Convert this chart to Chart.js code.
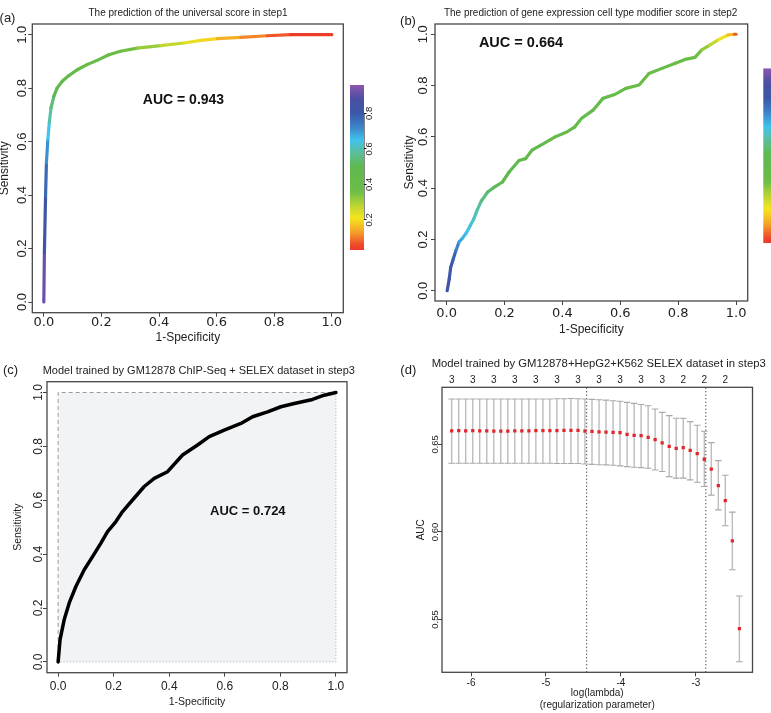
<!DOCTYPE html>
<html><head><meta charset="utf-8">
<script src="https://cdn.jsdelivr.net/npm/chart.js@4.4.1/dist/chart.umd.min.js"></script>
<style>
html,body{margin:0;padding:0;background:#fff;}
#wrap{position:relative;width:771px;height:713px;overflow:hidden;background:#fff;}
canvas{position:absolute;left:0;top:0;}
.t{position:absolute;transform:translate(-50%,-50%);white-space:nowrap;font-family:'Liberation Sans',Arial,Helvetica,sans-serif;color:#222;line-height:1;}
</style></head><body>
<div id="wrap">
<canvas id="cA" width="771" height="713"></canvas>
<canvas id="cAbar" width="771" height="713"></canvas>
<canvas id="cB" width="771" height="713"></canvas>
<canvas id="cBbar" width="771" height="713"></canvas>
<canvas id="cC" width="771" height="713"></canvas>
<canvas id="cD" width="771" height="713"></canvas>
<div class="t" style="left:7.5px;top:17px;font-size:13px">(a)</div>
<div class="t" style="left:188px;top:12.5px;font-size:10px">The prediction of the universal score in step1</div>
<div class="t" style="left:408px;top:20px;font-size:13px">(b)</div>
<div class="t" style="left:590.7px;top:13.3px;font-size:10px">The prediction of gene expression cell type modifier score in step2</div>
<div class="t" style="left:10.5px;top:369px;font-size:13px">(c)</div>
<div class="t" style="left:198.8px;top:370px;font-size:11px">Model trained by GM12878 ChIP-Seq + SELEX dataset in step3</div>
<div class="t" style="left:408.3px;top:369px;font-size:13px">(d)</div>
<div class="t" style="left:598.7px;top:364.3px;font-size:11.3px">Model trained by GM12878+HepG2+K562 SELEX dataset in step3</div>
</div>
<script>
// ---------------- DATA ----------------
// (a) universal score ROC
const rocA_fpr = [0, 0.002, 0.006, 0.009, 0.014, 0.019, 0.025, 0.035, 0.046, 0.064, 0.087, 0.116, 0.15, 0.185, 0.226, 0.266, 0.324, 0.406, 0.487, 0.545, 0.603, 0.684, 0.776, 0.857, 1.0];
const rocA_tpr = [0, 0.184, 0.396, 0.52, 0.608, 0.67, 0.726, 0.77, 0.80, 0.826, 0.847, 0.869, 0.888, 0.904, 0.925, 0.938, 0.95, 0.959, 0.969, 0.979, 0.985, 0.99, 0.996, 1.0, 1.0];
const rocA_cutoff = [0.97, 0.86, 0.80, 0.74, 0.68, 0.62, 0.56, 0.52, 0.48, 0.46, 0.445, 0.43, 0.42, 0.41, 0.39, 0.37, 0.34, 0.29, 0.25, 0.21, 0.17, 0.13, 0.09, 0.05, 0.02];
const aucA = 'AUC = 0.943';

// (b) cell type modifier score ROC
const rocB_fpr = [0.002, 0.009, 0.014, 0.022, 0.032, 0.043, 0.055, 0.068, 0.08, 0.094, 0.106, 0.12, 0.142, 0.165, 0.193, 0.216, 0.25, 0.273, 0.295, 0.335, 0.375, 0.415, 0.443, 0.466, 0.506, 0.54, 0.58, 0.619, 0.665, 0.699, 0.744, 0.79, 0.824, 0.858, 0.881, 0.909, 0.938, 0.972, 0.994, 1.0];
const rocB_tpr = [0, 0.045, 0.09, 0.12, 0.156, 0.19, 0.205, 0.225, 0.25, 0.28, 0.315, 0.35, 0.385, 0.404, 0.424, 0.463, 0.508, 0.515, 0.548, 0.574, 0.6, 0.619, 0.639, 0.672, 0.704, 0.75, 0.765, 0.789, 0.802, 0.847, 0.867, 0.887, 0.902, 0.91, 0.939, 0.958, 0.978, 0.997, 1.0, 1.0];
const rocB_cutoff = [0.86, 0.84, 0.82, 0.80, 0.76, 0.70, 0.67, 0.66, 0.64, 0.62, 0.60, 0.57, 0.54, 0.52, 0.50, 0.48, 0.47, 0.46, 0.46, 0.45, 0.45, 0.44, 0.44, 0.43, 0.43, 0.42, 0.42, 0.41, 0.41, 0.40, 0.40, 0.39, 0.38, 0.37, 0.34, 0.30, 0.25, 0.20, 0.12, 0.03];
const aucB = 'AUC = 0.664';

// colour bar range (cutoff values)
const cbMin = 0.03, cbMax = 0.96;
const cbTicks = [0.2, 0.4, 0.6, 0.8];

// (c) GM12878 ChIP-Seq + SELEX ROC
const rocC_fpr = [0, 0.007, 0.022, 0.04, 0.064, 0.094, 0.124, 0.154, 0.178, 0.208, 0.232, 0.268, 0.31, 0.346, 0.394, 0.448, 0.502, 0.544, 0.598, 0.658, 0.7, 0.754, 0.802, 0.85, 0.916, 0.958, 1.0];
const rocC_tpr = [0, 0.083, 0.157, 0.219, 0.28, 0.342, 0.391, 0.441, 0.484, 0.521, 0.558, 0.601, 0.651, 0.681, 0.706, 0.768, 0.805, 0.836, 0.86, 0.885, 0.91, 0.928, 0.947, 0.959, 0.974, 0.99, 1.0];
const aucC = 'AUC = 0.724';

// (d) cross-validated AUC vs log(lambda)
const logLambda = [-6.258,-6.164,-6.071,-5.977,-5.884,-5.790,-5.696,-5.603,-5.509,-5.416,-5.322,-5.228,-5.135,-5.041,-4.948,-4.854,-4.760,-4.667,-4.573,-4.480,-4.386,-4.292,-4.199,-4.105,-4.012,-3.918,-3.824,-3.731,-3.637,-3.544,-3.450,-3.356,-3.263,-3.169,-3.076,-2.982,-2.888,-2.795,-2.701,-2.608,-2.514,-2.420];
const cvMean = [0.6577,0.6578,0.6577,0.6578,0.6577,0.6577,0.6576,0.6576,0.6576,0.6577,0.6577,0.6577,0.6578,0.6578,0.6579,0.6579,0.6580,0.6580,0.6580,
  0.6576,0.6574,0.6572,0.6570,0.6568,0.6567,0.6557,0.6552,0.6550,0.6540,0.6527,0.6508,0.6489,0.6477,0.6481,0.6466,0.6447,0.6415,0.6359,0.6265,0.6179,0.5949,0.5448];
const cvUpper = [0.6759,0.6759,0.6759,0.6759,0.6759,0.6759,0.6759,0.6759,0.6759,0.6759,0.6759,0.6759,0.6759,0.6759,0.6759,0.6761,0.6761,0.6762,0.6761,
  0.6759,0.6757,0.6755,0.6753,0.6749,0.6746,0.6740,0.6734,0.6728,0.6721,0.6702,0.6683,0.6664,0.6649,0.6649,0.6630,0.6609,0.6575,0.6510,0.6407,0.6324,0.6113,0.5634];
const cvLower = [0.6392,0.6392,0.6392,0.6392,0.6392,0.6392,0.6392,0.6392,0.6392,0.6392,0.6392,0.6392,0.6392,0.6392,0.6392,0.6391,0.6391,0.6391,0.6391,
  0.6388,0.6386,0.6384,0.6383,0.6381,0.6377,0.6373,0.6369,0.6367,0.6364,0.6354,0.6345,0.6316,0.6307,0.6307,0.6297,0.6284,0.6259,0.6210,0.6126,0.6035,0.5784,0.5258];
const nonzeroAt = [-6.258,-5.977,-5.696,-5.416,-5.135,-4.854,-4.573,-4.292,-4.012,-3.731,-3.450,-3.169,-2.888,-2.608];
const nonzeroCount = [3,3,3,3,3,3,3,3,3,3,3,2,2,2];
const lambdaMinLog = -4.457, lambda1seLog = -2.868;

const rocTicks = [0, 0.2, 0.4, 0.6, 0.8, 1.0];
const dXTicks = [-6, -5, -4, -3];
const dYTicks = [0.55, 0.60, 0.65];

// ---------------- STYLE ----------------
const W = 771, H = 713;
const SANS = "'Liberation Sans', Arial, Helvetica, sans-serif";
Chart.defaults.font.family = SANS;
Chart.defaults.color = '#222';
Chart.defaults.animation = false;
Chart.defaults.responsive = false;
Chart.defaults.devicePixelRatio = 1;
Chart.defaults.plugins.legend.display = false;
Chart.defaults.plugins.tooltip.enabled = false;
Chart.defaults.events = [];

const rampStops = [0.00, 0.06, 0.13, 0.21, 0.28, 0.36, 0.50, 0.58, 0.65, 0.72, 0.80, 0.88, 0.96];
const rampColors = ['#ea2a2a','#ee4a2a','#f4a028','#f6e51e','#bcd533','#6bbd46','#5fb94f','#5bbf9c','#40c3ec','#3d86c9','#3b58a8','#4a4fa3','#8d55af'];
const rampRGB = rampColors.map(h => [1,3,5].map(i => parseInt(h.slice(i, i+2), 16)));
function rampColor(v) {
  if (v <= rampStops[0]) return rampColors[0];
  for (let k = 1; k < rampStops.length; k++) {
    if (v <= rampStops[k]) {
      const t = (v - rampStops[k-1]) / (rampStops[k] - rampStops[k-1]);
      const a = rampRGB[k-1], b = rampRGB[k];
      return 'rgb(' + a.map((c, j) => Math.round(c + (b[j] - c) * t)).join(',') + ')';
    }
  }
  return rampColors[rampColors.length - 1];
}
function barGradient(ctx) {
  const ch = ctx.chart, ys = ch.scales.y;
  if (!ys || !ch.chartArea) return '#888';
  const y0 = ys.getPixelForValue(cbMin), y1 = ys.getPixelForValue(cbMax);
  const g = ch.ctx.createLinearGradient(0, y0, 0, y1);
  for (let k = 0; k <= 60; k++) g.addColorStop(k / 60, rampColor(cbMin + (cbMax - cbMin) * k / 60));
  return g;
}

const FRAME = { id: 'frame', afterDraw(chart) {
  const a = chart.chartArea, c = chart.ctx;
  c.save(); c.strokeStyle = '#474747'; c.lineWidth = 1.3;
  c.strokeRect(a.left, a.top, a.right - a.left, a.bottom - a.top); c.restore();
}};
const NOTE = { id: 'note', afterDatasetsDraw(chart, args, opts) {
  if (!opts || !opts.text) return;
  const c = chart.ctx;
  const x = chart.scales.x.getPixelForValue(opts.x), y = chart.scales.y.getPixelForValue(opts.y);
  c.save(); c.font = opts.font; c.fillStyle = '#111'; c.textAlign = 'center'; c.textBaseline = 'middle';
  c.fillText(opts.text, x, y); c.restore();
}};

function pad(frame, ext) {
  return { left: frame.l - ext.left, top: frame.t - ext.top, right: W - frame.r - ext.right, bottom: H - frame.b - ext.bottom };
}
function xAxis(o) {
  const tl = o.tl || 0;
  return {
    type: 'linear', position: o.position || 'bottom', min: o.min, max: o.max, offset: false,
    afterFit: s => { s.height = o.h; },
    afterBuildTicks: s => { s.ticks = o.ticks.map(v => ({ value: v })); },
    grid: { display: tl > 0, offset: false, drawOnChartArea: false, drawTicks: tl > 0, tickLength: tl, color: '#444' },
    border: { display: false },
    ticks: { autoSkip: false, maxRotation: 0, minRotation: 0, padding: o.pad, font: o.font, color: '#222', callback: o.fmt },
    title: o.title ? { display: true, text: o.title, font: o.titleFont, color: '#222', padding: { top: 0, bottom: o.titlePad } } : { display: false }
  };
}
function yAxis(o) {
  return {
    type: 'linear', position: o.position || 'left', min: o.min, max: o.max, beginAtZero: false, offset: false,
    afterFit: s => { s.width = o.w; },
    afterBuildTicks: s => { s.ticks = o.ticks.map(v => ({ value: v })); },
    grid: { display: true, offset: false, drawOnChartArea: false, drawTicks: true, tickLength: o.tl, color: o.tickColor || '#444' },
    border: { display: false },
    ticks: { autoSkip: false, minRotation: 90, maxRotation: 90, crossAlign: 'center', padding: o.pad, font: o.font, color: '#222', callback: o.fmt },
    title: o.title ? { display: true, text: o.title, font: o.titleFont, color: '#222', padding: { top: o.titlePad, bottom: 0 } } : { display: false }
  };
}
const f1 = v => v.toFixed(1);

function rocColored(id, fpr, tpr, cut, frame, ext, ax, note) {
  return new Chart(document.getElementById(id), {
    type: 'line',
    data: { datasets: [{
      data: fpr.map((x, i) => ({ x, y: tpr[i] })),
      borderWidth: 3.2, pointRadius: 0, tension: 0, borderCapStyle: 'round', borderJoinStyle: 'round',
      borderColor: rampColor(0.45),
      segment: { borderColor: c => rampColor((cut[c.p0DataIndex] + cut[c.p1DataIndex]) / 2) }
    }]},
    options: {
      layout: { padding: pad(frame, ext) },
      scales: { x: xAxis(ax.x), y: yAxis(ax.y) },
      plugins: { note }
    },
    plugins: [FRAME, NOTE]
  });
}

// ---------------- (a) ----------------
const frA = { l: 32.3, t: 24, r: 343.3, b: 312.7 };
rocColored('cA', rocA_fpr, rocA_tpr, rocA_cutoff, frA, { left: 32.3, top: 0, right: 0, bottom: 32 }, {
  x: { min: -0.04, max: 1.04, ticks: rocTicks, h: 32, tl: 4, pad: -0.5, fmt: f1,
       font: { family: "'DejaVu Sans', sans-serif", size: 13, lineHeight: 1 },
       title: '1-Specificity', titleFont: { size: 12, lineHeight: 1 }, titlePad: 0.7 },
  y: { min: -0.04, max: 1.04, ticks: rocTicks, w: 32.3, tl: 4, pad: -3.44, fmt: f1,
       font: { size: 13, lineHeight: 1 }, title: 'Sensitivity', titleFont: { size: 12, lineHeight: 1 }, titlePad: -1.3 }
}, { text: aucA, x: 0.485, y: 0.757, font: "bold 14px " + SANS });

// colour bar (a)
new Chart(document.getElementById('cAbar'), {
  type: 'bar',
  data: { datasets: [
    { type: 'bar', data: [{ x: 0.5, y: [cbMin, cbMax] }], barThickness: 14, backgroundColor: barGradient, borderWidth: 0, inflateAmount: 0 },
    { type: 'line', data: [{ x: 1, y: cbTicks[0] }, { x: 1, y: cbTicks[cbTicks.length - 1] }], borderColor: '#111', borderWidth: 1, pointRadius: 0, clip: false }
  ]},
  options: {
    layout: { padding: pad({ l: 350, t: 85, r: 364, b: 250 }, { left: 0, top: 0, right: 20, bottom: 0 }) },
    scales: {
      x: { type: 'linear', min: 0, max: 1, offset: false, display: false },
      y: yAxis({ position: 'right', min: cbMin, max: cbMax, ticks: cbTicks, w: 20, tl: 2.5, pad: -3.8, fmt: f1,
                 font: { size: 9.5, lineHeight: 1 }, tickColor: '#111' })
    }
  }
});

// ---------------- (b) ----------------
const frB = { l: 435, t: 24, r: 747.7, b: 301 };
rocColored('cB', rocB_fpr, rocB_tpr, rocB_cutoff, frB, { left: 35, top: 0, right: 0, bottom: 34 }, {
  x: { min: -0.04, max: 1.04, ticks: rocTicks, h: 34, tl: 4, pad: 1.8, fmt: f1,
       font: { family: "'DejaVu Sans', sans-serif", size: 13, lineHeight: 1 },
       title: '1-Specificity', titleFont: { size: 12, lineHeight: 1 }, titlePad: -1 },
  y: { min: -0.04, max: 1.04, ticks: rocTicks, w: 35, tl: 4, pad: -1.34, fmt: f1,
       font: { size: 13, lineHeight: 1 }, title: 'Sensitivity', titleFont: { size: 12, lineHeight: 1 }, titlePad: 4 }
}, { text: aucB, x: 0.257, y: 0.965, font: "bold 14.5px " + SANS });

// colour bar (b), cut by the figure edge
new Chart(document.getElementById('cBbar'), {
  type: 'bar',
  data: { datasets: [
    { type: 'bar', data: [{ x: 1, y: [cbMin, cbMax] }], barThickness: 16, backgroundColor: barGradient, borderWidth: 0, inflateAmount: 0 }
  ]},
  options: {
    layout: { padding: pad({ l: 763.3, t: 68.3, r: 771, b: 243.3 }, { left: 0, top: 0, right: 0, bottom: 0 }) },
    scales: {
      x: { type: 'linear', min: 0, max: 1, offset: false, display: false },
      y: { type: 'linear', min: cbMin, max: cbMax, display: false }
    }
  }
});

// ---------------- (c) ----------------
const frC = { l: 47, t: 381.7, r: 347, b: 672.7 };
new Chart(document.getElementById('cC'), {
  type: 'line',
  data: { datasets: [
    { data: rocC_fpr.map((x, i) => ({ x, y: rocC_tpr[i] })), borderColor: '#000', borderWidth: 3.5, pointRadius: 0, tension: 0,
      borderCapStyle: 'round', borderJoinStyle: 'round', order: 1 },
    { data: [{ x: 1, y: 1 }, { x: 1, y: 0 }, { x: 0, y: 0 }], borderColor: '#a5a5a5', borderWidth: 1, borderDash: [1, 2.2], pointRadius: 0, order: 2 },
    { data: [{ x: 0, y: 0 }, { x: 0, y: 1 }, { x: 1, y: 1 }], borderColor: '#9a9a9a', borderWidth: 1, borderDash: [4, 3], pointRadius: 0, order: 3 },
    { data: [{ x: 0, y: 1 }, { x: 1, y: 1 }], borderWidth: 0, pointRadius: 0, fill: 'origin', backgroundColor: '#f1f3f5', order: 4 }
  ]},
  options: {
    layout: { padding: pad(frC, { left: 47, top: 0, right: 0, bottom: 36 }) },
    scales: {
      x: xAxis({ min: -0.04, max: 1.04, ticks: rocTicks, h: 36, tl: 4, pad: 4, fmt: f1, font: { size: 12, lineHeight: 1 },
                 title: '1-Specificity', titleFont: { size: 10.5, lineHeight: 1 }, titlePad: 1.75 }),
      y: yAxis({ min: -0.04, max: 1.04, ticks: rocTicks, w: 47, tl: 4, pad: -4.34, fmt: f1, font: { size: 12, lineHeight: 1 },
                 title: 'Sensitivity', titleFont: { size: 10.5, lineHeight: 1 }, titlePad: 13.05 })
    },
    plugins: { note: { text: aucC, x: 0.683, y: 0.557, font: "bold 13px " + SANS } }
  },
  plugins: [FRAME, NOTE]
});

// ---------------- (d) ----------------
const frD = { l: 442, t: 387.3, r: 752.5, b: 672.3 };
const dXmin = -6.387, dXmax = -2.245, dYmin = 0.5198, dYmax = 0.6826;
new Chart(document.getElementById('cD'), {
  type: 'bar',
  data: { datasets: [
    { type: 'line', data: logLambda.map((x, i) => ({ x, y: cvMean[i] })), showLine: false, pointStyle: 'rect', pointRadius: 2.3,
      pointBackgroundColor: '#e2262c', pointBorderWidth: 0, order: 1 },
    { type: 'line', data: logLambda.map((x, i) => ({ x, y: cvUpper[i] })), showLine: false, pointStyle: 'line', pointRadius: 3.3,
      pointBorderColor: '#a9a9a9', pointBorderWidth: 1.1, order: 2 },
    { type: 'line', data: logLambda.map((x, i) => ({ x, y: cvLower[i] })), showLine: false, pointStyle: 'line', pointRadius: 3.3,
      pointBorderColor: '#a9a9a9', pointBorderWidth: 1.1, order: 2 },
    { type: 'bar', data: logLambda.map((x, i) => ({ x, y: [cvLower[i], cvUpper[i]] })), backgroundColor: '#bcbcbc', barThickness: 1.4,
      borderWidth: 0, inflateAmount: 0, order: 3 },
    { type: 'line', data: [{ x: lambdaMinLog, y: dYmin }, { x: lambdaMinLog, y: dYmax }], borderColor: '#333', borderWidth: 1,
      borderDash: [1.2, 2.3], pointRadius: 0, order: 4 },
    { type: 'line', data: [{ x: lambda1seLog, y: dYmin }, { x: lambda1seLog, y: dYmax }], borderColor: '#333', borderWidth: 1,
      borderDash: [1.2, 2.3], pointRadius: 0, order: 4 }
  ]},
  options: {
    layout: { padding: pad(frD, { left: 42, top: 20, right: 0, bottom: 40 }) },
    scales: {
      x: xAxis({ min: dXmin, max: dXmax, ticks: dXTicks, h: 40, tl: 4, pad: 2, fmt: v => String(v), font: { size: 10, lineHeight: 1 },
                 title: ['log(lambda)', '(regularization parameter)'], titleFont: { size: 10, lineHeight: 1.17 }, titlePad: 1.45 }),
      x2: xAxis({ position: 'top', min: dXmin, max: dXmax, ticks: nonzeroAt, h: 20, tl: 0, pad: 2.3,
                  fmt: (v, i) => String(nonzeroCount[i]), font: { size: 10, lineHeight: 1 } }),
      y: yAxis({ min: dYmin, max: dYmax, ticks: dYTicks, w: 42, tl: 4, pad: -6.7, fmt: v => v.toFixed(2), font: { size: 9.5, lineHeight: 1 },
                 title: 'AUC', titleFont: { size: 10, lineHeight: 1 }, titlePad: 16.7 })
    }
  },
  plugins: [FRAME]
});
</script>
</body></html>
